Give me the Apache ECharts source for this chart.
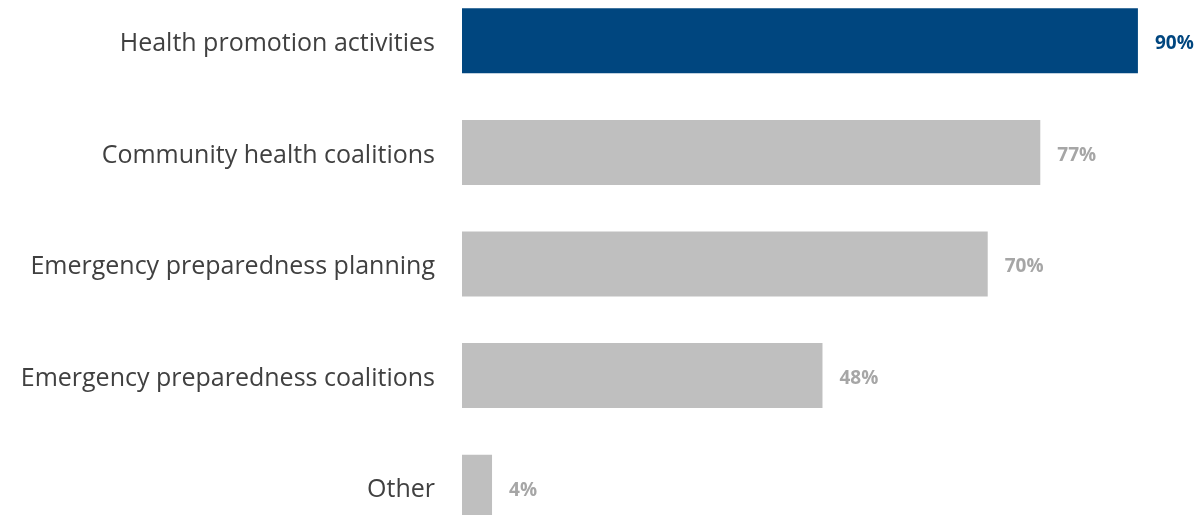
<!DOCTYPE html>
<html>
<head>
<meta charset="utf-8">
<script src="https://cdn.jsdelivr.net/npm/echarts@6/dist/echarts.min.js"></script>
<style>
html,body{margin:0;padding:0;background:#fff;overflow:hidden;width:1198px;height:515px;}
#chart{position:absolute;left:0;top:-15px;width:1198px;height:558px;}
</style>
</head>
<body>
<div id="chart"></div>
<script>
// Share of respondents by activity type (%)
const categories = [
  'Health promotion activities',
  'Community health coalitions',
  'Emergency preparedness planning',
  'Emergency preparedness coalitions',
  'Other'
];
const values = [90, 77, 70, 48, 4];
const highlightIndex = 0;

const BLUE = '#00467f';
const GREY_BAR = '#bfbfbf';
const GREY_LABEL = '#a6a6a6';

const chart = echarts.init(document.getElementById('chart'));
chart.setOption({
  animation: false,
  grid: { left: 462, right: 0, top: 0, bottom: 0 },
  xAxis: { type: 'value', min: 0, max: 98, show: false },
  yAxis: {
    type: 'category',
    inverse: true,
    data: categories,
    axisLine: { show: false },
    axisTick: { show: false },
    axisLabel: {
      margin: 27,
      formatter: '{t|{value}}',
      rich: {
        t: {
          padding: [6, 0, 0, 0],
          fontFamily: 'Open Sans',
          fontSize: 25,
          color: '#404040'
        }
      }
    }
  },
  series: [{
    type: 'bar',
    barWidth: 65,
    data: values.map((v, i) => ({
      value: v,
      itemStyle: { color: i === highlightIndex ? BLUE : GREY_BAR },
      label: { color: i === highlightIndex ? BLUE : GREY_LABEL }
    })),
    label: {
      show: true,
      position: 'right',
      distance: 17,
      offset: [0, 3],
      formatter: '{c}%',
      fontFamily: 'Open Sans',
      fontWeight: 'bold',
      fontSize: 19
    }
  }]
});
</script>
</body>
</html>
